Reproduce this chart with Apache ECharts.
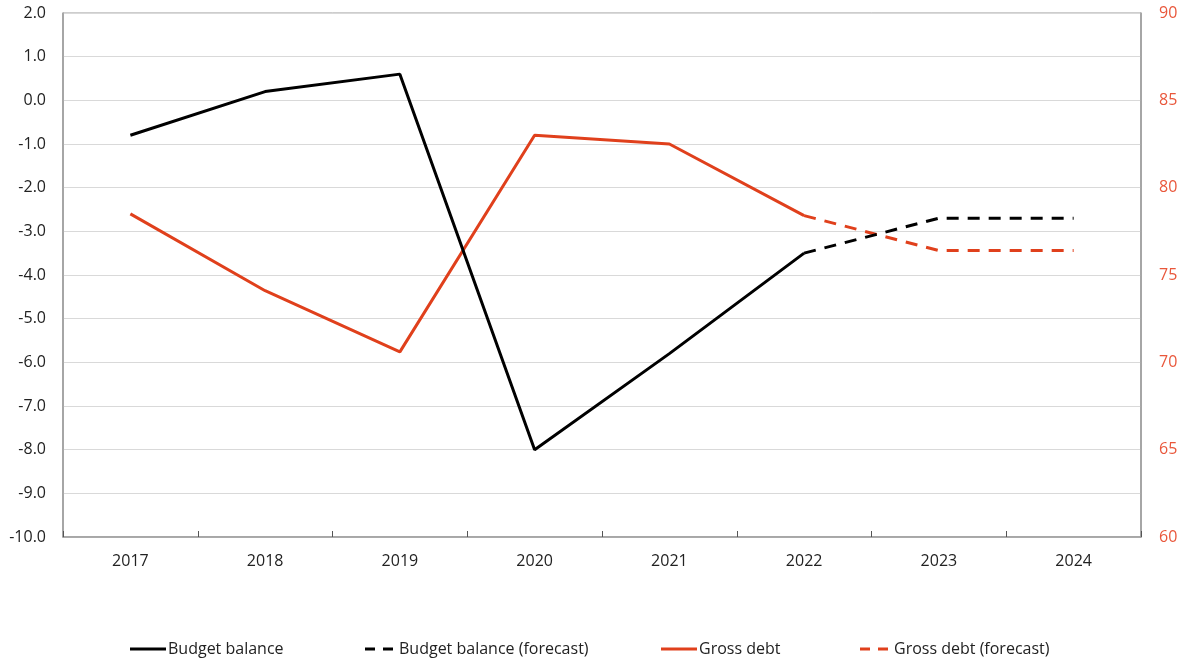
<!DOCTYPE html>
<html><head><meta charset="utf-8">
<script src="https://cdn.jsdelivr.net/npm/echarts@6/dist/echarts.min.js"></script>
<style>html,body{margin:0;padding:0;background:#fff}#c{width:1181px;height:659px}</style>
</head><body><div id="c"></div>
<script>
const categories = ['2017','2018','2019','2020','2021','2022','2023','2024'];
const budgetBalance = [-0.8, 0.2, 0.6, -8.0, -5.8, -3.5, null, null];
const budgetBalanceForecast = [null, null, null, null, null, -3.5, -2.7, -2.7];
const grossDebt = [78.5, 74.1, 70.6, 83.0, 82.5, 78.4, null, null];
const grossDebtForecast = [null, null, null, null, null, 78.4, 76.4, 76.4];
const seriesNames = ['Budget balance','Budget balance (forecast)','Gross debt','Gross debt (forecast)'];

const BLACK = '#000000', RED = '#e0401c', LABEL_RED = '#e9573b';
const FONT = '"Open Sans", "Noto Sans", sans-serif';
const dash = [12, 9];
const SOLID_ICON = 'path://M0,0L36,0L36,3L0,3Z';
const DASH_ICON = 'path://M4,0L14,0L14,3L4,3ZM22,0L32,0L32,3L22,3ZM0,0L0,0L0,3L0,3ZM36,0L36,0L36,3L36,3Z';
const chart = echarts.init(document.getElementById('c'), null, {renderer:'canvas'});
function mkLegend(name, left, icon){
  return {data:[{name:name, icon:icon}], left:left, top:641, padding:0, itemWidth:36, itemHeight:3, itemGap:0,
    textStyle:{fontFamily:FONT, fontSize:16, color:'#222', padding:[0,0,0,-3]}, selectedMode:false};
}
chart.setOption({
  animation:false,
  textStyle:{fontFamily:FONT},
  grid:{left:63, right:40, top:13, bottom:122, show:true, borderColor:'#9a9a9a', borderWidth:1},
  legend:[mkLegend(seriesNames[0],130,SOLID_ICON), mkLegend(seriesNames[1],361,DASH_ICON),
          mkLegend(seriesNames[2],661,SOLID_ICON), mkLegend(seriesNames[3],856,DASH_ICON)],
  xAxis:{type:'category', data:categories, boundaryGap:true,
    axisLine:{onZero:false, lineStyle:{color:'#9a9a9a', width:1.5}},
    axisTick:{show:true, inside:true, length:6, lineStyle:{color:'#555'}},
    axisLabel:{color:'#222', fontSize:16, margin:16, fontFamily:FONT}},
  yAxis:[
    {type:'value', min:-10, max:2, interval:1, position:'left',
     axisLine:{show:true, lineStyle:{color:'#9a9a9a', width:1.5}}, axisTick:{show:false},
     splitLine:{show:true, lineStyle:{color:'#d9d9d9', width:1.2}},
     axisLabel:{color:'#222', fontSize:16, margin:17, fontFamily:FONT, formatter:v=>v.toFixed(1)}},
    {type:'value', min:60, max:90, interval:5, position:'right',
     axisLine:{show:true, lineStyle:{color:'#9a9a9a', width:1.5}}, axisTick:{show:false},
     splitLine:{show:false},
     axisLabel:{color:LABEL_RED, fontSize:16, margin:18, fontFamily:FONT}}
  ],
  series:[
    {name:seriesNames[0], type:'line', yAxisIndex:0, data:budgetBalance, symbol:'none',
     lineStyle:{color:BLACK, width:3}, itemStyle:{color:BLACK}, z:3},
    {name:seriesNames[1], type:'line', yAxisIndex:0, data:budgetBalanceForecast, symbol:'none',
     lineStyle:{color:BLACK, width:3, type:dash}, itemStyle:{color:BLACK}, z:3},
    {name:seriesNames[2], type:'line', yAxisIndex:1, data:grossDebt, symbol:'none',
     lineStyle:{color:RED, width:3}, itemStyle:{color:RED}, z:2},
    {name:seriesNames[3], type:'line', yAxisIndex:1, data:grossDebtForecast, symbol:'none',
     lineStyle:{color:RED, width:3, type:dash}, itemStyle:{color:RED}, z:2}
  ]
});
</script></body></html>
